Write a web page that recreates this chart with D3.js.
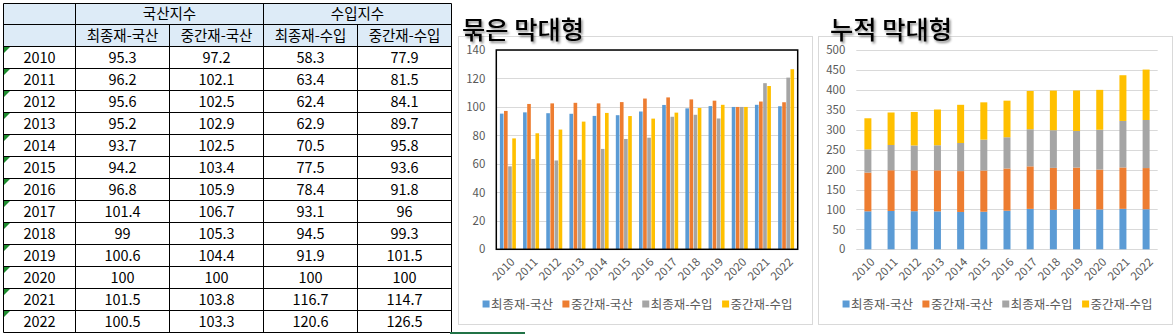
<!DOCTYPE html>
<html><head><meta charset="utf-8">
<script src="https://cdn.jsdelivr.net/npm/d3@7/dist/d3.min.js"></script>
<style>
html,body{margin:0;padding:0;background:#fff;}
svg{display:block;font-family:"Noto Sans CJK KR","Noto Sans",sans-serif;}
</style></head>
<body>
<svg id="c" width="1176" height="334"></svg>
<script>
const years = ['2010','2011','2012','2013','2014','2015','2016','2017','2018','2019','2020','2021','2022'];
const finalDomestic = [95.3, 96.2, 95.6, 95.2, 93.7, 94.2, 96.8, 101.4, 99, 100.6, 100, 101.5, 100.5];
const interDomestic = [97.2, 102.1, 102.5, 102.9, 102.5, 103.4, 105.9, 106.7, 105.3, 104.4, 100, 103.8, 103.3];
const finalImport = [58.3, 63.4, 62.4, 62.9, 70.5, 77.5, 78.4, 93.1, 94.5, 91.9, 100, 116.7, 120.6];
const interImport = [77.9, 81.5, 84.1, 89.7, 95.8, 93.6, 91.8, 96, 99.3, 101.5, 100, 114.7, 126.5];
const seriesNames = ['최종재-국산','중간재-국산','최종재-수입','중간재-수입'];
const groupNames = ['국산지수','수입지수'];
const groupedTicks = [0,20,40,60,80,100,120,140];
const stackedTicks = [0,50,100,150,200,250,300,350,400,450,500];
const titles = ['묶은 막대형','누적 막대형'];
const colors = ['#5B9BD5','#ED7D31','#A5A5A5','#FFC000'];

const seriesValues = [finalDomestic, interDomestic, finalImport, interImport];
const rows = years.map((y,i)=>({year:y, vals: seriesValues.map(s=>s[i])}));

const svg = d3.select('#c');
const defs = svg.append('defs');
const f = defs.append('filter').attr('id','sh').attr('x','-10%').attr('y','-20%').attr('width','130%').attr('height','160%');
f.append('feDropShadow').attr('dx',1.5).attr('dy',2).attr('stdDeviation',1.3).attr('flood-color','#000').attr('flood-opacity',0.45);

// ---------- Table ----------
const colX = [3.5, 75.5, 169.5, 263.5, 357.5, 451.5];
const rowY = [3.5, 24.5, 46.5];
years.forEach((y,i)=>rowY.push(46.5 + 22*(i+1)));
const tbl = svg.append('g');
tbl.append('rect').attr('x',colX[0]).attr('y',rowY[0]).attr('width',colX[5]-colX[0]).attr('height',rowY[2]-rowY[0]).attr('fill','#DDEBF7');
// green indicators
years.forEach((y,i)=>{
  const y0 = rowY[2+i]+0.5;
  tbl.append('path').attr('d',`M${colX[0]+0.5},${y0}L${colX[0]+6.5},${y0}L${colX[0]+0.5},${y0+6}Z`).attr('fill','#1E8C2E');
});
// lines
const line = (x1,y1,x2,y2)=>tbl.append('line').attr('x1',x1).attr('y1',y1).attr('x2',x2).attr('y2',y2).attr('stroke','#000').attr('stroke-width',1);
rowY.forEach(y=>line(colX[0],y,colX[5],y));
line(colX[0],rowY[0],colX[0],rowY[rowY.length-1]);
line(colX[1],rowY[0],colX[1],rowY[rowY.length-1]);
line(colX[3],rowY[0],colX[3],rowY[rowY.length-1]);
line(colX[5],rowY[0],colX[5],rowY[rowY.length-1]);
line(colX[2],rowY[1],colX[2],rowY[rowY.length-1]);
line(colX[4],rowY[1],colX[4],rowY[rowY.length-1]);
const cellText = (x,y,t)=>tbl.append('text').attr('x',x).attr('y',y).attr('text-anchor','middle').attr('dy','0.36em').attr('font-size',14.5).attr('fill','#000').text(t);
groupNames.forEach((g,i)=>cellText((colX[1+2*i]+colX[3+2*i])/2,(rowY[0]+rowY[1])/2,g));
seriesNames.forEach((s,i)=>cellText((colX[1+i]+colX[2+i])/2,(rowY[1]+rowY[2])/2,s));
rows.forEach((r,i)=>{
  const cy = (rowY[2+i]+rowY[3+i])/2+0.5;
  cellText((colX[0]+colX[1])/2, cy, r.year);
  r.vals.forEach((v,j)=>cellText((colX[1+j]+colX[2+j])/2, cy, String(v)));
});
svg.append('rect').attr('x',450).attr('y',332).attr('width',75).attr('height',2).attr('fill','#217346');

// ---------- Charts ----------
function chart(ox, stacked, title, ticks){
  const g = svg.append('g');
  g.append('rect').attr('x',ox+0.5).attr('y',36.5).attr('width',354).attr('height',288).attr('fill','#fff').attr('stroke','#D9D9D9');
  const left = ox+38.3, right = ox+339.7, top = 50, bottom = 249.3;
  const x = d3.scaleBand().domain(years).range([left,right]);
  const y = d3.scaleLinear().domain([ticks[0], ticks[ticks.length-1]]).range([bottom, top]);
  // gridlines
  g.append('g').selectAll('line').data(ticks).join('line')
    .attr('x1',left).attr('x2',right).attr('y1',d=>Math.round(y(d))+0.5).attr('y2',d=>Math.round(y(d))+0.5)
    .attr('stroke','#D9D9D9').attr('stroke-width',1);
  // y axis labels
  const ya = d3.axisLeft(y).tickValues(ticks).tickSize(0).tickPadding(11);
  const yg = g.append('g').attr('transform',`translate(${left},0)`).call(ya);
  yg.select('.domain').remove();
  yg.selectAll('text').attr('font-size',11.5).attr('fill','#595959').attr('font-family','"Noto Sans CJK KR","Noto Sans",sans-serif');
  if(!stacked){
    const x1 = d3.scaleBand().domain(d3.range(4)).range([-8,8]).paddingInner(0.12);
    g.append('g').selectAll('g').data(rows).join('g')
      .attr('transform',d=>`translate(${x(d.year)+x.bandwidth()/2},0)`)
      .selectAll('rect').data(d=>d.vals.map((v,i)=>({v,i}))).join('rect')
      .attr('x',d=>x1(d.i)).attr('width',x1.bandwidth())
      .attr('y',d=>y(d.v)).attr('height',d=>y(0)-y(d.v)).attr('fill',d=>colors[d.i]);
    g.append('rect').attr('x',left).attr('y',top).attr('width',right-left).attr('height',bottom-top)
      .attr('fill','none').attr('stroke','#000').attr('stroke-width',1.5);
  } else {
    const data = rows.map(r=>{const o={year:r.year}; r.vals.forEach((v,i)=>o['s'+i]=v); return o;});
    const st = d3.stack().keys(['s0','s1','s2','s3'])(data);
    const bw = 7;
    g.append('g').selectAll('g').data(st).join('g').attr('fill',(d,i)=>colors[i])
      .selectAll('rect').data(d=>d).join('rect')
      .attr('x',d=>x(d.data.year)+x.bandwidth()/2-bw/2).attr('width',bw)
      .attr('y',d=>y(d[1])).attr('height',d=>y(d[0])-y(d[1]));
  }
  // x labels
  const xa = d3.axisBottom(x).tickSize(0).tickPadding(0);
  const xg = g.append('g').attr('transform',`translate(0,${bottom})`).call(xa);
  xg.select('.domain').remove();
  xg.selectAll('text').attr('font-size',11.5).attr('fill','#595959').attr('font-family','"Noto Sans CJK KR","Noto Sans",sans-serif')
    .attr('text-anchor','end').attr('dy',null).attr('y',0)
    .attr('transform','translate(4,10) rotate(-45)').attr('dominant-baseline','central');
  // legend
  const lg = g.append('g');
  const items = lg.selectAll('g').data(seriesNames).join('g');
  items.append('rect').attr('width',7).attr('height',7).attr('y',-3.5).attr('fill',(d,i)=>colors[i]);
  items.append('text').attr('x',8.5).attr('dy','0.36em').attr('font-size',12.5).attr('fill','#595959').text(d=>d);
  let cx = 0; const pos=[];
  items.each(function(){ pos.push(cx); cx += 8.5 + this.querySelector('text').getComputedTextLength() + 9.5; });
  const total = cx - 9.5;
  items.attr('transform',(d,i)=>`translate(${pos[i]},0)`);
  lg.attr('transform',`translate(${ox+179.5-total/2},304)`);
  // title
  svg.append('text').attr('x', stacked? ox+12 : ox+4).attr('y',39).attr('font-size',25).attr('font-weight',500)
    .attr('textLength',122).attr('lengthAdjust','spacingAndGlyphs')
    .attr('fill','#000').attr('filter','url(#sh)').text(title);
}
chart(458, false, titles[0], groupedTicks);
chart(818, true, titles[1], stackedTicks);
</script>
</body></html>
